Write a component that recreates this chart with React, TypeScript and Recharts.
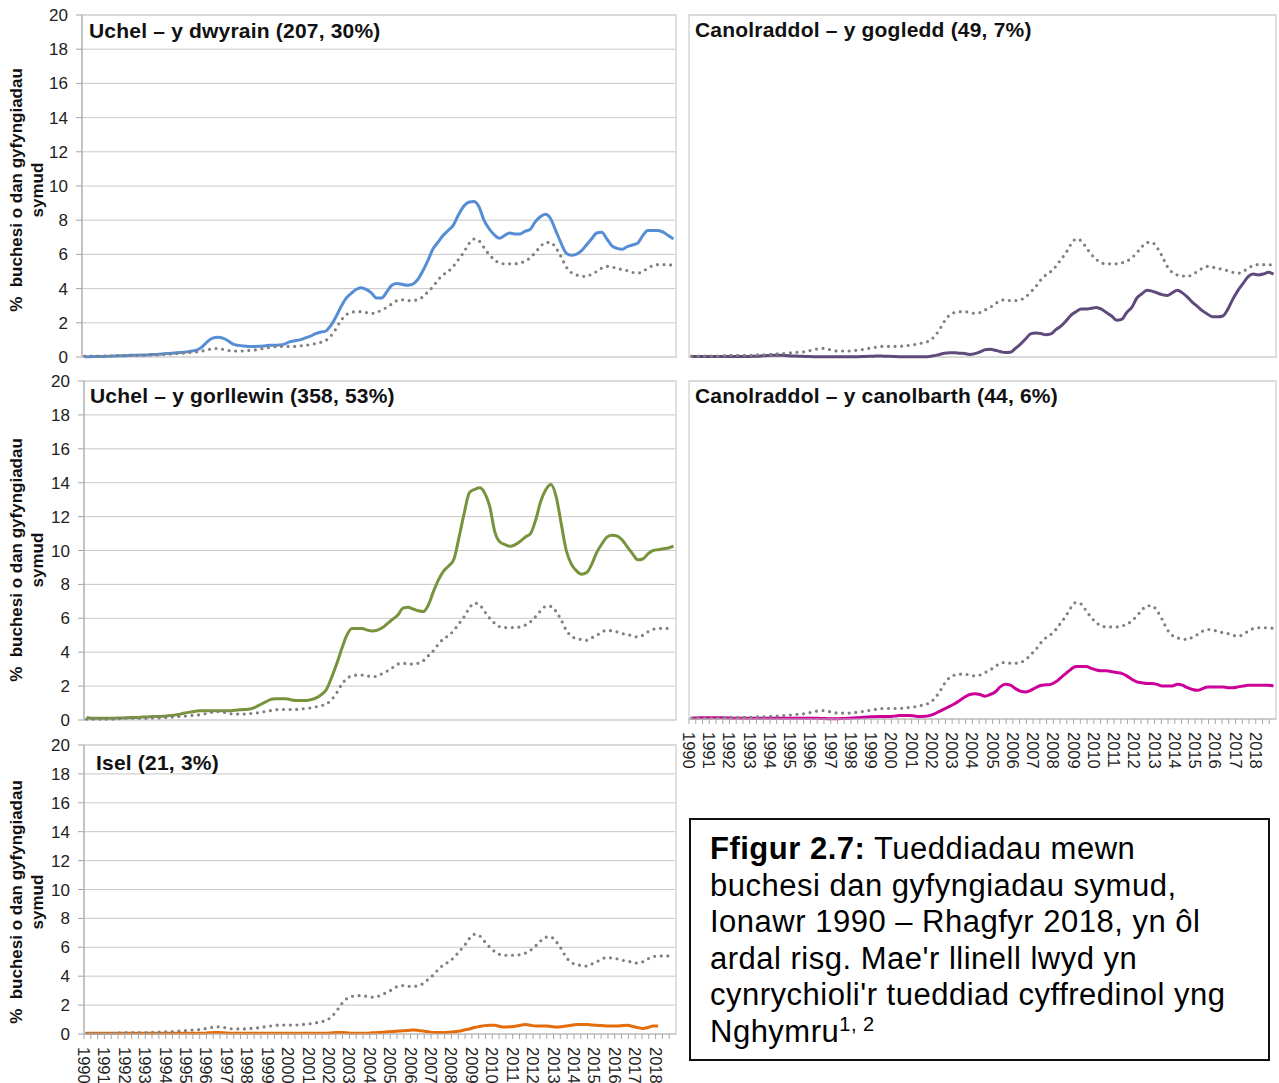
import React from "react"
import { LineChart, Line, XAxis, YAxis, CartesianGrid, ReferenceArea } from "recharts"

const FONT = '"Liberation Sans", Arial, Helvetica, sans-serif'

// Years on the axis (each year holds four quarterly values below)
const years = [
  1990, 1991, 1992, 1993, 1994, 1995, 1996, 1997, 1998, 1999, 2000, 2001, 2002, 2003, 2004,
  2005, 2006, 2007, 2008, 2009, 2010, 2011, 2012, 2013, 2014, 2015, 2016, 2017, 2018,
]
const yTicks = [0, 2, 4, 6, 8, 10, 12, 14, 16, 18, 20]

// Wales overall trend (grey dotted line, same in every panel)
const general = [
  0.05, 0.05, 0.05, 0.05, 0.05, 0.05, 0.08, 0.08, 0.1, 0.1, 0.1, 0.1, 0.1, 0.12, 0.12, 0.15,
  0.15, 0.18, 0.2, 0.22, 0.25, 0.28, 0.3, 0.35, 0.42, 0.48, 0.5, 0.45, 0.38, 0.35, 0.35, 0.35,
  0.38, 0.4, 0.45, 0.5, 0.55, 0.6, 0.62, 0.62, 0.62, 0.62, 0.65, 0.68, 0.72, 0.78, 0.85, 0.95,
  1.2, 1.6, 2.1, 2.45, 2.6, 2.65, 2.65, 2.6, 2.55, 2.6, 2.75, 2.9, 3.1, 3.3, 3.35, 3.3,
  3.3, 3.35, 3.5, 3.8, 4.1, 4.5, 4.8, 5.0, 5.3, 5.7, 6.1, 6.6, 6.9, 6.8, 6.4, 6.0,
  5.7, 5.5, 5.45, 5.45, 5.45, 5.5, 5.6, 5.8, 6.1, 6.45, 6.7, 6.7, 6.4, 5.9, 5.3, 4.95,
  4.8, 4.75, 4.7, 4.85, 5.0, 5.2, 5.3, 5.25, 5.2, 5.1, 5.05, 4.95, 4.9, 5.0, 5.2, 5.35,
  5.4, 5.4, 5.4, 5.35,
]

// Uchel – y dwyrain
const highEast = [
  0.02, 0.02, 0.03, 0.03, 0.04, 0.05, 0.06, 0.08, 0.08, 0.1, 0.1, 0.12, 0.12, 0.14, 0.15, 0.17,
  0.2, 0.22, 0.25, 0.27, 0.3, 0.35, 0.42, 0.6, 0.9, 1.1, 1.15, 1.1, 0.95, 0.75, 0.68, 0.64,
  0.62, 0.62, 0.63, 0.65, 0.68, 0.68, 0.7, 0.75, 0.88, 0.95, 1.0, 1.1, 1.2, 1.35, 1.45, 1.5,
  1.8, 2.3, 2.9, 3.4, 3.7, 3.95, 4.05, 3.95, 3.75, 3.45, 3.45, 3.8, 4.2, 4.3, 4.25, 4.2,
  4.25, 4.5, 5.0, 5.6, 6.3, 6.7, 7.1, 7.4, 7.7, 8.3, 8.8, 9.05, 9.1, 8.8, 8.0, 7.5,
  7.15, 6.95, 7.1, 7.25, 7.2, 7.2, 7.35, 7.45, 7.9, 8.2, 8.35, 8.1, 7.4, 6.7, 6.1, 5.95,
  6.0, 6.2, 6.55, 6.9, 7.25, 7.3, 6.9, 6.5, 6.35, 6.3, 6.45, 6.55, 6.65, 7.1, 7.4, 7.4,
  7.4, 7.3, 7.1, 6.9,
]

// Canolraddol – y gogledd
const midNorth = [
  0.03, 0.03, 0.03, 0.03, 0.03, 0.03, 0.03, 0.03, 0.03, 0.03, 0.03, 0.03, 0.04, 0.05, 0.07, 0.09,
  0.1, 0.1, 0.1, 0.08, 0.06, 0.05, 0.04, 0.03, 0.02, 0.02, 0.02, 0.02, 0.02, 0.02, 0.02, 0.02,
  0.02, 0.02, 0.03, 0.04, 0.05, 0.06, 0.05, 0.04, 0.03, 0.02, 0.02, 0.02, 0.02, 0.02, 0.02, 0.03,
  0.08, 0.15, 0.22, 0.25, 0.25, 0.22, 0.2, 0.15, 0.2, 0.3, 0.42, 0.45, 0.4, 0.32, 0.26, 0.28,
  0.5, 0.75, 1.05, 1.35, 1.4, 1.38, 1.3, 1.35, 1.6, 1.8, 2.1, 2.45, 2.65, 2.8, 2.8, 2.85,
  2.9, 2.8, 2.6, 2.4, 2.15, 2.2, 2.6, 2.9, 3.45, 3.7, 3.9, 3.85, 3.75, 3.65, 3.6, 3.75,
  3.9, 3.75, 3.5, 3.2, 2.95, 2.7, 2.5, 2.35, 2.35, 2.4, 2.8, 3.4, 3.9, 4.3, 4.7, 4.85,
  4.8, 4.85, 4.95, 4.85,
]

// Uchel – y gorllewin
const highWest = [
  0.15, 0.1, 0.1, 0.1, 0.1, 0.1, 0.12, 0.12, 0.14, 0.15, 0.15, 0.17, 0.18, 0.2, 0.2, 0.22,
  0.25, 0.28, 0.32, 0.4, 0.45, 0.5, 0.55, 0.55, 0.55, 0.55, 0.55, 0.55, 0.55, 0.58, 0.6, 0.62,
  0.65, 0.75, 0.9, 1.05, 1.2, 1.25, 1.25, 1.25, 1.2, 1.15, 1.15, 1.15, 1.2, 1.3, 1.5, 1.8,
  2.5, 3.3, 4.2, 5.0, 5.4, 5.4, 5.4, 5.3, 5.25, 5.3, 5.45, 5.7, 5.95, 6.2, 6.6, 6.65,
  6.55, 6.45, 6.4, 6.8, 7.6, 8.3, 8.8, 9.1, 9.5, 10.8, 12.2, 13.4, 13.6, 13.7, 13.4, 12.6,
  11.1, 10.5, 10.35, 10.25, 10.35, 10.55, 10.8, 11.0, 11.8, 12.9, 13.6, 13.9, 13.2, 11.6, 10.0, 9.2,
  8.8, 8.6, 8.7, 9.2, 9.9, 10.4, 10.8, 10.9, 10.85, 10.6, 10.2, 9.8, 9.45, 9.5, 9.8, 10.0,
  10.05, 10.1, 10.15, 10.25,
]

// Canolraddol – y canolbarth
const midCentral = [
  0.05, 0.06, 0.07, 0.08, 0.08, 0.08, 0.07, 0.06, 0.05, 0.05, 0.05, 0.05, 0.05, 0.05, 0.05, 0.05,
  0.05, 0.05, 0.05, 0.05, 0.05, 0.05, 0.05, 0.05, 0.05, 0.04, 0.03, 0.02, 0.02, 0.02, 0.03, 0.04,
  0.06, 0.08, 0.1, 0.12, 0.14, 0.15, 0.15, 0.15, 0.17, 0.2, 0.2, 0.2, 0.18, 0.15, 0.16, 0.2,
  0.3, 0.45, 0.6, 0.75, 0.9, 1.1, 1.3, 1.45, 1.5, 1.45, 1.35, 1.45, 1.6, 1.9, 2.05, 2.0,
  1.8, 1.65, 1.6, 1.7, 1.85, 1.98, 2.02, 2.05, 2.2, 2.45, 2.7, 2.95, 3.1, 3.1, 3.1, 3.0,
  2.9, 2.85, 2.85, 2.8, 2.75, 2.7, 2.55, 2.35, 2.2, 2.15, 2.1, 2.1, 2.05, 1.95, 1.95, 1.95,
  2.05, 2.0, 1.85, 1.75, 1.7, 1.8, 1.9, 1.9, 1.9, 1.9, 1.85, 1.85, 1.9, 1.95, 2.0, 2.0,
  2.0, 2.0, 2.0, 1.95,
]

// Isel (no values after early 2018)
const low = [
  0.05, 0.05, 0.05, 0.05, 0.05, 0.05, 0.05, 0.05, 0.05, 0.05, 0.05, 0.05, 0.05, 0.05, 0.05, 0.05,
  0.05, 0.05, 0.05, 0.05, 0.05, 0.05, 0.05, 0.05, 0.08, 0.1, 0.1, 0.08, 0.06, 0.05, 0.05, 0.05,
  0.05, 0.05, 0.05, 0.05, 0.05, 0.05, 0.05, 0.05, 0.05, 0.05, 0.05, 0.05, 0.05, 0.05, 0.05, 0.05,
  0.07, 0.1, 0.1, 0.08, 0.05, 0.05, 0.05, 0.05, 0.08, 0.1, 0.12, 0.15, 0.18, 0.2, 0.22, 0.25,
  0.28, 0.25, 0.2, 0.15, 0.1, 0.1, 0.1, 0.12, 0.15, 0.2, 0.28, 0.35, 0.45, 0.52, 0.58, 0.6,
  0.6, 0.52, 0.48, 0.5, 0.53, 0.6, 0.65, 0.6, 0.55, 0.55, 0.55, 0.52, 0.48, 0.5, 0.55, 0.6,
  0.65, 0.65, 0.65, 0.62, 0.6, 0.58, 0.55, 0.55, 0.55, 0.58, 0.6, 0.52, 0.45, 0.38, 0.45, 0.55,
  0.55, null, null, null,
]

const data = years.flatMap((year, i) =>
  [0, 1, 2, 3].map((q) => {
    const k = i * 4 + q
    return {
      t: year + q / 4 + 0.125,
      general: general[k],
      highEast: highEast[k],
      midNorth: midNorth[k],
      highWest: highWest[k],
      midCentral: midCentral[k],
      low: low[k],
    }
  })
)

// minor ticks every four months, labels on each January
const xTicks = years.flatMap((y) => [y, y + 1 / 3, y + 2 / 3])

const panels = [
  { key: "highEast", title: "Uchel – y dwyrain (207, 30%)", color: "#558ed5", left: 82, top: 15, right: 676, bottom: 357, yLabels: true, xLabels: false, titleX: 89, titleY: 31, axisTitleY: 190 },
  { key: "midNorth", title: "Canolraddol – y gogledd (49, 7%)", color: "#604a7b", left: 689, top: 15, right: 1276, bottom: 357, yLabels: false, xLabels: false, titleX: 695, titleY: 30 },
  { key: "highWest", title: "Uchel – y gorllewin (358, 53%)", color: "#77933c", left: 84, top: 381, right: 676, bottom: 720, yLabels: true, xLabels: false, titleX: 90, titleY: 396, axisTitleY: 560 },
  { key: "midCentral", title: "Canolraddol – y canolbarth (44, 6%)", color: "#cc0099", left: 689, top: 381, right: 1276, bottom: 719, yLabels: false, xLabels: true, titleX: 695, titleY: 396 },
  { key: "low", title: "Isel (21, 3%)", color: "#e46c0a", left: 84, top: 745, right: 676, bottom: 1034, yLabels: true, xLabels: true, titleX: 96, titleY: 763, axisTitleY: 902 },
]

function YearTick(props: any) {
  const { x, y, payload } = props
  const v = payload.value
  if (Math.abs(v - Math.round(v)) > 0.01) return null
  return (
    <text
      x={x}
      y={y}
      transform={`rotate(90, ${x}, ${y})`}
      textAnchor="start"
      dominantBaseline="central"
      fontSize={16.5}
      fontFamily={FONT}
      fill="#222"
    >
      {Math.round(v)}
    </text>
  )
}

function Panel({ p }: { p: any }) {
  const yw = p.yLabels ? 60 : 0
  const ml = p.yLabels ? 0 : 12
  const xh = p.xLabels ? 56 : 0
  const mb = p.xLabels ? 0 : 12
  const w = p.right - p.left + yw + ml + 3
  const h = p.bottom - p.top + 12 + xh + mb
  return (
    <>
      <div style={{ position: "absolute", left: p.left - yw - ml, top: p.top - 12 }}>
        <LineChart
          width={w}
          height={h}
          data={data}
          margin={{ top: 12, right: 3, left: ml, bottom: mb }}
        >
          <CartesianGrid vertical={false} stroke="#c8c8c8" />
          <ReferenceArea x1={1990} x2={2019} y1={0} y2={20} fill="none" stroke="#d6d6d6" strokeWidth={1.5} />
          <XAxis
            dataKey="t"
            type="number"
            domain={[1990, 2019]}
            ticks={xTicks}
            interval={0}
            hide={!p.xLabels}
            height={xh}
            axisLine={{ stroke: "#bfbfbf" }}
            tickLine={{ stroke: "#a6a6a6" }}
            tickSize={5}
            tickMargin={8}
            tick={<YearTick />}
          />
          <YAxis
            domain={[0, 20]}
            ticks={yTicks}
            interval={0}
            width={yw}
            axisLine={p.yLabels ? { stroke: "#a6a6a6" } : false}
            tickLine={p.yLabels ? { stroke: "#a6a6a6" } : false}
            tickSize={6}
            tickMargin={8}
            tick={p.yLabels ? { fontSize: 17, fontFamily: FONT, fill: "#222" } : false}
          />
          <Line
            type="monotone"
            dataKey={p.key}
            stroke={p.color}
            strokeWidth={3}
            dot={false}
            isAnimationActive={false}
          />
          <Line
            type="monotone"
            dataKey="general"
            stroke="#808080"
            strokeWidth={3.2}
            strokeLinecap="round"
            strokeDasharray="0 6.6"
            dot={false}
            isAnimationActive={false}
          />
        </LineChart>
      </div>
      <div
        style={{
          position: "absolute",
          left: p.titleX,
          top: p.titleY - 13,
          fontFamily: FONT,
          fontWeight: "bold",
          fontSize: 21,
          letterSpacing: 0.2,
          lineHeight: "26px",
          whiteSpace: "nowrap",
          color: "#111",
        }}
      >
        {p.title}
      </div>
      {p.yLabels && (
        <div
          style={{
            position: "absolute",
            left: 27 - 150,
            top: p.axisTitleY - 21,
            width: 300,
            height: 42,
            transform: "rotate(-90deg)",
            transformOrigin: "center",
            textAlign: "center",
            fontFamily: FONT,
            fontWeight: "bold",
            fontSize: 17,
            lineHeight: "21px",
            whiteSpace: "pre",
            color: "#111",
          }}
        >
          {"%  buchesi o dan gyfyngiadau\nsymud"}
        </div>
      )}
    </>
  )
}

export default function App() {
  return (
    <div
      style={{
        position: "absolute",
        left: 0,
        top: 0,
        width: 1279,
        height: 1083,
        background: "#fff",
        overflow: "hidden",
      }}
    >
      {panels.map((p) => (
        <Panel key={p.key} p={p} />
      ))}
      <div
        style={{
          position: "absolute",
          left: 689,
          top: 818,
          width: 581,
          height: 243,
          boxSizing: "border-box",
          border: "2px solid #111",
          padding: "11px 0 0 19px",
          fontFamily: FONT,
          fontSize: 31,
          letterSpacing: 0.5,
          lineHeight: "36.6px",
          whiteSpace: "nowrap",
          color: "#000",
        }}
      >
        <b>Ffigur 2.7:</b> Tueddiadau mewn
        <br />
        buchesi dan gyfyngiadau symud,
        <br />
        Ionawr 1990 – Rhagfyr 2018, yn ôl
        <br />
        ardal risg. Mae'r llinell lwyd yn
        <br />
        cynrychioli'r tueddiad cyffredinol yng
        <br />
        Nghymru<sup style={{ fontSize: 20, lineHeight: 0 }}>1, 2</sup>
      </div>
    </div>
  )
}
